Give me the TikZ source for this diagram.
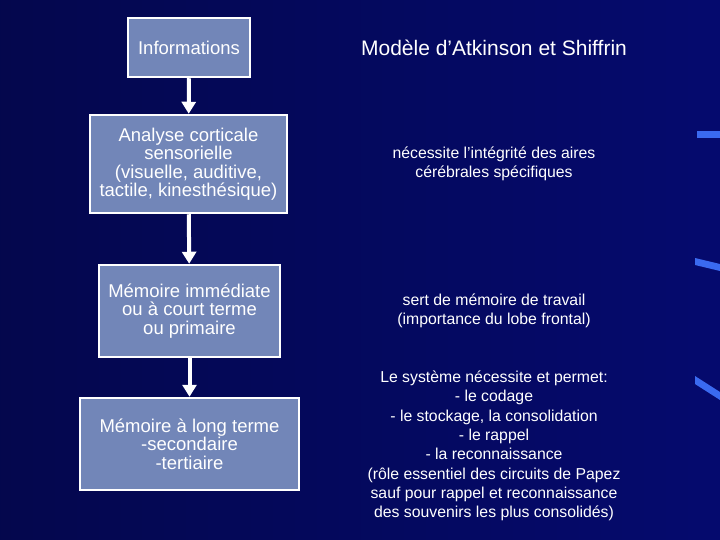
\documentclass[tikz,border=0pt]{standalone}
\usepackage{fontspec}
\setmainfont{Liberation Sans}
\usetikzlibrary{arrows.meta}
\definecolor{bg}{HTML}{050A6E}
\definecolor{boxfill}{HTML}{7286B8}
\definecolor{streak}{HTML}{3A6AF0}
\tikzset{
  box/.style={draw=white, line width=2.5pt, fill=boxfill, text=white, align=center, inner sep=0pt, font=\fontsize{18.5}{18.5}\selectfont},
  flow/.style={draw=white, line width=4pt, -{Triangle[width=14pt,length=12pt]}},
  note/.style={text=white, align=center, font=\fontsize{15.8}{19.3}\selectfont}
}
\begin{document}
\begin{tikzpicture}[x=1pt,y=-1pt]
\shade[left color=bg!70!black, right color=bg] (0,0) rectangle (720,540);
\useasboundingbox (0,0) rectangle (720,540);
\fill[streak] (697,131) rectangle (720,138);
\fill[streak] (695,258) -- (720,264) -- (720,271) -- (695,265) -- cycle;
\fill[streak] (695,376) -- (720,392) -- (720,400) -- (695,384) -- cycle;
\node[box, minimum width=122, minimum height=59] (info) at (189,47.5) {Informations};
\node[box, minimum width=197, minimum height=98] (ana) at (188.5,164) {Analyse corticale\\sensorielle\\(visuelle, auditive,\\tactile, kinesthésique)};
\node[box, minimum width=181, minimum height=92] (imm) at (189.5,311) {Mémoire immédiate\\ou à court terme\\ou primaire};
\node[box, minimum width=219, minimum height=92] (long) at (189.5,444) {Mémoire à long terme\\-secondaire\\-tertiaire};
\draw[flow] (info) -- (ana);
\draw[flow] (ana) -- (imm);
\draw[flow] (imm) -- (long);
\node[note, font=\fontsize{21}{22}\selectfont] (title) at (494,48) {Modèle d’Atkinson et Shiffrin};
\node[note] (n1) at (494,164) {nécessite l’intégrité des aires\\cérébrales spécifiques};
\node[note] (n2) at (494,311) {sert de mémoire de travail\\(importance du lobe frontal)};
\node[note] (n3) at (494,446) {Le système nécessite et permet:\\- le codage\\- le stockage, la consolidation\\- le rappel\\- la reconnaissance\\(rôle essentiel des circuits de Papez\\sauf pour rappel et reconnaissance\\des souvenirs les plus consolidés)};
\end{tikzpicture}
\end{document}
